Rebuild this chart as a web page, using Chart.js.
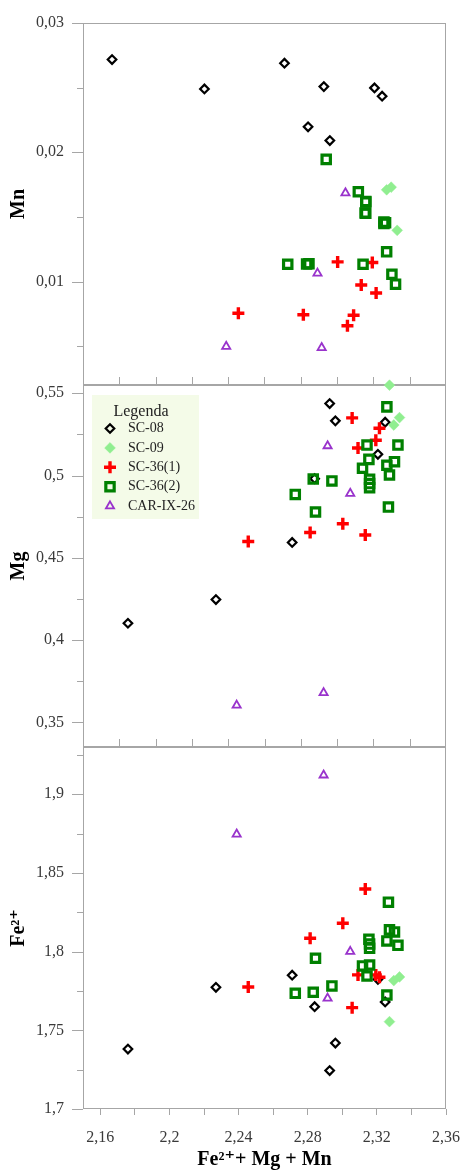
<!DOCTYPE html>
<html>
<head>
<meta charset="utf-8">
<script src="https://cdn.jsdelivr.net/npm/chart.js@4.4.1/dist/chart.umd.min.js"></script>
<style>
    html, body { margin: 0; padding: 0; background: #fff; overflow: hidden; }
    #wrap { position: relative; width: 465px; height: 1170px; overflow: hidden; }
    canvas { position: absolute; left: 0; }
</style>
</head>
<body>
<div id="wrap">
    <canvas id="mn-chart" width="476" height="422" style="top:-7px"></canvas>
    <canvas id="mg-chart" width="476" height="422" style="top:355px"></canvas>
    <canvas id="fe-chart" width="476" height="453" style="top:717px"></canvas>
</div>
<script>
// Series labels
const seriesNames = ['SC-08', 'SC-09', 'SC-36(1)', 'SC-36(2)', 'CAR-IX-26'];

// Fe2+ + Mg + Mn (x)
const xSC08 = [2.176, 2.2269, 2.271, 2.284, 2.2927, 2.296, 2.3248, 2.3206];
const xSC09 = [2.3273, 2.3298, 2.3331];
const xSC36a = [2.2456, 2.2814, 2.3003, 2.3133, 2.3057, 2.3091, 2.3194, 2.3215];
const xSC36b = [2.2728, 2.2832, 2.2845, 2.294, 2.3117, 2.3143, 2.3154, 2.3158, 2.3158, 2.3158,
                2.3258, 2.3258, 2.3267, 2.3273, 2.3302, 2.3322];
const xCAR = [2.2389, 2.2892, 2.2915, 2.3046];

// Mn
const mnSC08 = [0.02717, 0.0249, 0.02689, 0.02197, 0.02508, 0.02091, 0.02434, 0.02498];
const mnSC09 = [0.0171, 0.0173, 0.01396];
const mnSC36a = [0.00755, 0.00743, 0.01152, 0.00974, 0.00658, 0.0074, 0.01147, 0.00912];
const mnSC36b = [0.01134, 0.01136, 0.01138, 0.01945, 0.01695, 0.01134, 0.0153, 0.01615, 0.0162, 0.01528,
                 0.0145, 0.0146, 0.01455, 0.0123, 0.01057, 0.0098];
const mnCAR = [0.00498, 0.01064, 0.00488, 0.01685];

// Mg
const mgSC08 = [0.4102, 0.4246, 0.4593, 0.4981, 0.5437, 0.5332, 0.5324, 0.5129];
const mgSC09 = [0.5549, 0.5307, 0.5352];
const mgSC36a = [0.4599, 0.4654, 0.4707, 0.4638, 0.535, 0.5167, 0.5214, 0.5287];
const mgSC36b = [0.4885, 0.4979, 0.4778, 0.4967, 0.5044, 0.5185, 0.5098, 0.4977, 0.4951, 0.4926,
                 0.5417, 0.5062, 0.4808, 0.5003, 0.5084, 0.5185];
const mgCAR = [0.3603, 0.3679, 0.518, 0.4891];

// Fe2+
const feSC08 = [1.7381, 1.7773, 1.785, 1.765, 1.7244, 1.7419, 1.768, 1.7824];
const feSC09 = [1.7555, 1.7816, 1.7839];
const feSC36a = [1.7775, 1.8085, 1.818, 1.8398, 1.7644, 1.7852, 1.7852, 1.7837];
const feSC36b = [1.7735, 1.7742, 1.7958, 1.7782, 1.7909, 1.7845, 1.8078, 1.8048, 1.8021, 1.7915,
                 1.8068, 1.7724, 1.8314, 1.8138, 1.8125, 1.804];
const feCAR = [1.8746, 1.9121, 1.7703, 1.8];

// Tick labels
const mnTicks = [0.005, 0.01, 0.015, 0.02, 0.025, 0.03];
const mnLabels = [0.01, 0.02, 0.03];
const mgTicks = [0.35, 0.375, 0.4, 0.425, 0.45, 0.475, 0.5, 0.525, 0.55];
const mgLabels = [0.35, 0.4, 0.45, 0.5, 0.55];
const feTicks = [1.7, 1.725, 1.75, 1.775, 1.8, 1.825, 1.85, 1.875, 1.9, 1.925];
const feLabels = [1.7, 1.75, 1.8, 1.85, 1.9];
const xTicks = [2.16, 2.18, 2.2, 2.22, 2.24, 2.26, 2.28, 2.3, 2.32, 2.34, 2.36];
const xLabels = [2.16, 2.2, 2.24, 2.28, 2.32, 2.36];
const mnInnerTicks = [2.18, 2.2, 2.22, 2.24, 2.26, 2.28, 2.3, 2.32, 2.34];
const mgInnerTicks = [2.171, 2.192, 2.213, 2.234, 2.255, 2.276, 2.297, 2.318, 2.339];

const FONT = '"Liberation Serif", "DejaVu Serif", serif';
const AXIS_GRAY = '#a6a6a6';
const TICK_TEXT = '#3a3a3a';
// canvases are drawn a bit larger than the panels, the extra margin is cut off
const PAD = { top: 30, bottom: 30, left: 0, right: 30 };

const markers = [
    { pointStyle: 'rectRot', radius: 4.3, border: '#000000', fill: 'rgba(0,0,0,0)', width: 2.2, order: 5 },
    { pointStyle: 'rectRot', radius: 5.4, border: '#90ee90', fill: '#90ee90', width: 0.5, order: 4 },
    { pointStyle: 'cross', radius: 6, border: '#ff0000', fill: '#ff0000', width: 3.4, order: 3 },
    { pointStyle: 'rect', radius: 5.9, border: '#008000', fill: 'rgba(0,0,0,0)', width: 3.2, order: 2 },
    { pointStyle: 'triangle', radius: 4.7, border: '#9933cc', fill: 'rgba(0,0,0,0)', width: 1.8, order: 1 }
];

const xSets = [xSC08, xSC09, xSC36a, xSC36b, xCAR];

function fmt(v) {
    return String(v).replace('.', ',');
}

function buildDatasets(ySets) {
    return ySets.map((ys, i) => {
        const m = markers[i];
        return {
            label: seriesNames[i],
            data: xSets[i].map((x, j) => ({ x: x, y: ys[j] })),
            pointStyle: m.pointStyle,
            pointRadius: m.radius,
            pointBorderColor: m.border,
            pointBackgroundColor: m.fill,
            pointBorderWidth: m.width,
            showLine: false,
            clip: false,
            order: m.order
        };
    });
}

// frame, y tick marks and inner x tick marks
const framePlugin = {
    id: 'frame',
    beforeDatasetsDraw(chart, args, opts) {
        const ctx = chart.ctx;
        const a = chart.chartArea;
        const ys = chart.scales.y;
        const xs = chart.scales.x;
        ctx.save();
        ctx.strokeStyle = AXIS_GRAY;
        ctx.lineWidth = 1;
        ctx.strokeRect(Math.round(a.left) + 0.5, Math.round(a.top) + 0.5,
            Math.round(a.width) - 1, Math.round(a.height) - 1);
        ctx.beginPath();
        ys.ticks.forEach(t => {
            const py = Math.round(ys.getPixelForValue(t.value)) + 0.5;
            const len = opts.major.includes(t.value) ? 11 : 6;
            ctx.moveTo(a.left - len, py);
            ctx.lineTo(a.left, py);
        });
        (opts.inner || []).forEach(v => {
            const px = Math.round(xs.getPixelForValue(v)) + 0.5;
            ctx.moveTo(px, a.bottom);
            ctx.lineTo(px, a.bottom - 8);
        });
        ctx.stroke();
        ctx.restore();
    }
};

const legendPlugin = {
    id: 'legendBox',
    afterDatasetsDraw(chart) {
        const ctx = chart.ctx;
        const a = chart.chartArea;
        const left = a.left + 9;
        const top = a.top + 10;
        ctx.save();
        ctx.fillStyle = '#f4fbe8';
        ctx.fillRect(left, top, 107, 124);
        ctx.fillStyle = '#222';
        ctx.font = '16px ' + FONT;
        ctx.textAlign = 'center';
        ctx.textBaseline = 'middle';
        ctx.fillText('Legenda', left + 49, top + 17);
        ctx.textAlign = 'left';
        ctx.font = '14px ' + FONT;
        chart.data.datasets.forEach((ds, i) => {
            const cy = top + 33.5 + i * 19.4;
            ctx.strokeStyle = ds.pointBorderColor;
            ctx.fillStyle = ds.pointBackgroundColor;
            ctx.lineWidth = ds.pointBorderWidth;
            Chart.helpers.drawPoint(ctx, {
                pointStyle: ds.pointStyle,
                radius: ds.pointRadius,
                borderWidth: ds.pointBorderWidth,
                rotation: 0
            }, left + 18, cy);
            ctx.fillStyle = '#222';
            ctx.fillText(ds.label, left + 36, cy);
        });
        ctx.restore();
    }
};

function yAxis(range, ticks, labels, title) {
    return {
        type: 'linear',
        min: range[0],
        max: range[1],
        afterBuildTicks: s => { s.ticks = ticks.map(v => ({ value: v })); },
        afterFit: s => { s.width = 83; },
        grid: { display: false, drawTicks: false },
        border: { display: false },
        ticks: {
            padding: 19,
            autoSkip: false,
            color: TICK_TEXT,
            font: { family: FONT, size: 16 },
            callback: v => labels.includes(v) ? fmt(v) : ''
        },
        title: {
            display: true,
            text: title,
            color: '#000',
            font: { family: FONT, size: 20, weight: 'bold' },
            padding: { top: 7, bottom: 0 }
        }
    };
}

function makeChart(id, ySets, yCfg, xCfg, padding, plugins, frameOpts) {
    return new Chart(document.getElementById(id), {
        type: 'scatter',
        data: { datasets: buildDatasets(ySets) },
        options: {
            responsive: false,
            animation: false,
            events: [],
            layout: { padding: padding },
            scales: { x: xCfg, y: yCfg },
            plugins: {
                legend: { display: false },
                tooltip: { enabled: false },
                frame: frameOpts
            }
        },
        plugins: plugins
    });
}

// Mn panel
makeChart('mn-chart',
    [mnSC08, mnSC09, mnSC36a, mnSC36b, mnCAR],
    yAxis([0.002, 0.03], mnTicks, mnLabels, 'Mn'),
    { type: 'linear', min: 2.16, max: 2.36, display: false },
    PAD,
    [framePlugin],
    { major: mnLabels, inner: mnInnerTicks });

// Mg panel
makeChart('mg-chart',
    [mgSC08, mgSC09, mgSC36a, mgSC36b, mgCAR],
    yAxis([0.335, 0.555], mgTicks, mgLabels, 'Mg'),
    { type: 'linear', min: 2.15, max: 2.36, display: false },
    PAD,
    [framePlugin, legendPlugin],
    { major: mgLabels, inner: mgInnerTicks });

// Fe2+ panel
makeChart('fe-chart',
    [feSC08, feSC09, feSC36a, feSC36b, feCAR],
    yAxis([1.7, 1.93], feTicks, feLabels, 'Fe\u00B2\u207A'),
    {
        type: 'linear',
        min: 2.15,
        max: 2.36,
        afterBuildTicks: s => { s.ticks = xTicks.map(v => ({ value: v })); },
        afterFit: s => { s.height = 61; },
        grid: { drawOnChartArea: false, drawTicks: true, tickLength: 6, color: AXIS_GRAY },
        border: { display: false },
        ticks: {
            autoSkip: false,
            maxRotation: 0,
            padding: 13,
            color: TICK_TEXT,
            font: { family: FONT, size: 16 },
            callback: v => xLabels.includes(v) ? fmt(v) : ''
        },
        title: {
            display: true,
            text: 'Fe\u00B2\u207A+ Mg + Mn',
            color: '#000',
            font: { family: FONT, size: 20, weight: 'bold', lineHeight: 1 },
            padding: { top: 0, bottom: 0 }
        }
    },
    { top: 30, bottom: 0, left: 0, right: 30 },
    [framePlugin],
    { major: feLabels, inner: [] });
</script>
</body>
</html>
